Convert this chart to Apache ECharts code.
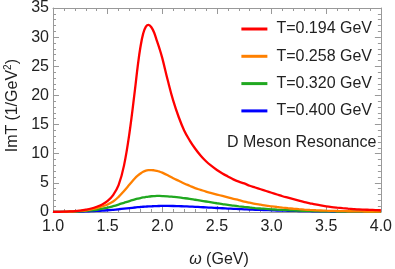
<!DOCTYPE html>
<html><head><meta charset="utf-8">
<script src="https://cdn.jsdelivr.net/npm/echarts@6/dist/echarts.min.js"></script>
<style>html,body{margin:0;padding:0;background:#fff}#c{width:395px;height:269px}</style>
</head><body><div id="c"></div>
<script>
const omega = [1.00,1.05,1.10,1.15,1.20,1.25,1.30,1.35,1.40,1.45,1.50,1.55,1.60,1.65,1.70,1.75,1.775,1.80,1.825,1.85,1.875,1.90,1.925,1.95,1.975,
  2.00,2.05,2.10,2.15,2.20,2.25,2.30,2.35,2.40,2.45,2.50,2.55,2.60,2.65,2.70,2.75,2.80,2.85,2.90,2.95,
  3.00,3.05,3.10,3.15,3.20,3.25,3.30,3.35,3.40,3.45,3.50,3.55,3.60,3.65,3.70,3.75,3.80,3.85,3.90,3.95,4.00];
const red = [0.02,0.03,0.05,0.09,0.15,0.25,0.4,0.6,0.9,1.3,1.9,2.9,4.6,8.0,13.6,21.0,25.0,28.3,30.6,31.8,32.1,31.7,30.8,29.4,28.0,
  26.4,22.6,19.1,16.3,14.0,12.3,10.9,9.7,8.7,7.9,7.2,6.6,6.1,5.6,5.2,4.9,4.5,4.2,3.9,3.6,
  3.3,3.0,2.7,2.45,2.2,1.95,1.7,1.5,1.3,1.12,0.97,0.85,0.75,0.66,0.58,0.51,0.45,0.41,0.37,0.33,0.3];
const orange = [0.02,0.03,0.05,0.08,0.12,0.2,0.3,0.45,0.65,0.95,1.3,1.8,2.6,3.6,4.7,5.8,6.25,6.6,6.9,7.1,7.18,7.2,7.15,7.05,6.92,
  6.75,6.3,5.8,5.35,4.9,4.5,4.1,3.8,3.5,3.25,3.0,2.75,2.5,2.25,2.05,1.8,1.6,1.4,1.25,1.1,
  0.98,0.86,0.75,0.65,0.56,0.48,0.41,0.35,0.3,0.26,0.22,0.19,0.17,0.15,0.13,0.12,0.1,0.09,0.08,0.07,0.07];
const green = [0.01,0.02,0.03,0.05,0.08,0.12,0.18,0.27,0.38,0.55,0.75,1.0,1.28,1.58,1.88,2.15,2.28,2.4,2.5,2.58,2.65,2.7,2.73,2.75,2.75,
  2.74,2.69,2.6,2.5,2.38,2.25,2.1,1.95,1.8,1.65,1.5,1.36,1.22,1.1,0.98,0.87,0.77,0.68,0.6,0.53,
  0.46,0.4,0.35,0.31,0.27,0.23,0.2,0.18,0.15,0.13,0.12,0.1,0.09,0.08,0.07,0.06,0.05,0.05,0.04,0.04,0.03];
const blue = [0.01,0.01,0.02,0.03,0.05,0.07,0.1,0.14,0.18,0.24,0.3,0.38,0.47,0.57,0.67,0.77,0.82,0.86,0.9,0.93,0.96,0.98,1.0,1.02,1.03,
  1.04,1.04,1.03,1.0,0.97,0.93,0.89,0.84,0.79,0.74,0.69,0.64,0.59,0.54,0.5,0.46,0.42,0.38,0.35,0.32,
  0.29,0.26,0.24,0.21,0.19,0.17,0.15,0.14,0.12,0.11,0.1,0.09,0.08,0.07,0.06,0.05,0.05,0.04,0.04,0.03,0.03];
const names = ['T=0.194 GeV','T=0.258 GeV','T=0.320 GeV','T=0.400 GeV'];
const colors = ['#ff0000','#ff8000','#20a820','#0000ff'];
const seriesData = [red, orange, green, blue];

const font = 'Liberation Sans, Arial, sans-serif';
const axisCol = '#999999';
function xAx(show, pos){return {type:'value',min:1,max:4,interval:0.5,position:pos,
  axisLine:{show:true,onZero:false,lineStyle:{color:axisCol}},
  axisTick:{show:true,inside:true,length:6,lineStyle:{color:axisCol}},
  minorTick:{show:true,splitNumber:5,length:3,lineStyle:{color:axisCol}},
  splitLine:{show:false},
  axisLabel:{show:show,color:'#222',fontSize:16,fontFamily:font,margin:7,formatter:v=>v.toFixed(1)}};}
function yAx(show, pos){return {type:'value',min:0,max:35,interval:5,position:pos,
  axisLine:{show:true,onZero:false,lineStyle:{color:axisCol}},
  axisTick:{show:true,inside:true,length:6,lineStyle:{color:axisCol}},
  minorTick:{show:true,splitNumber:5,length:3,lineStyle:{color:axisCol}},
  splitLine:{show:false},
  axisLabel:{show:show,color:'#222',fontSize:16,fontFamily:font,margin:4}};}

const chart = echarts.init(document.getElementById('c'),null,{renderer:'canvas'});
chart.setOption({
  animation:false,
  grid:{left:53,right:10,top:8,bottom:57},
  xAxis:[xAx(true,'bottom'),xAx(false,'top')],
  yAxis:[yAx(true,'left'),yAx(false,'right')],
  legend:{orient:'vertical',right:18,top:16,itemWidth:26,itemHeight:3,itemGap:11.3,icon:'rect',
    textStyle:{fontSize:16,lineHeight:16,fontFamily:font,color:'#222',padding:[0,0,0,4]},data:names},
  graphic:[
    {type:'text',left:227,top:135,style:{text:'D Meson Resonance',font:'16px Liberation Sans, Arial, sans-serif',fill:'#222'}}
  ],
  series: seriesData.map((d,i)=>({name:names[i],type:'line',smooth:0.4,showSymbol:false,symbol:'none',
    xAxisIndex:0,yAxisIndex:0,z:10-i,
    lineStyle:{color:colors[i],width:2.3},itemStyle:{color:colors[i]},
    data:omega.map((w,j)=>[w,d[j]])}))
});
</script>
<div style="position:absolute;left:0;top:0;width:24px;height:212px;display:flex;align-items:center;justify-content:center;">
  <div style="transform:rotate(-90deg);white-space:nowrap;font:16px 'Liberation Sans',Arial,sans-serif;color:#222;">ImT (1/GeV<sup style="font-size:10px">2</sup>)</div>
</div>
<div style="position:absolute;left:53px;width:332px;top:250px;text-align:center;font:16px 'Liberation Sans',Arial,sans-serif;color:#222;line-height:18px;"><i>ω</i> (GeV)</div>
</body></html>
